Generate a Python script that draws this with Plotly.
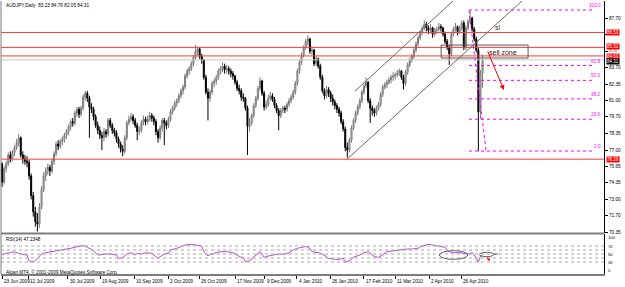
import plotly.graph_objects as go

# ---------------- data ----------------
opens = [
75.9,74.4,75.5,75.9,76.6,76.3,76.8,77.2,77.6,78.0,
76.6,76.3,76.1,76.0,74.9,73.3,72.0,71.2,71.0,72.4,
73.8,74.9,75.3,75.6,75.3,76.1,76.7,77.5,77.3,77.7,
77.9,78.2,78.5,78.9,79.3,79.2,80.0,80.3,79.9,80.4,
81.3,81.6,81.2,80.5,80.3,79.7,79.0,78.6,78.2,78.0,
78.5,78.3,79.4,79.0,78.6,78.4,77.9,77.5,77.1,76.9,
78.0,79.2,79.5,79.7,79.4,79.0,78.5,78.6,79.2,79.5,
79.3,79.5,79.8,79.6,79.3,78.5,78.0,78.8,79.4,79.2,
79.0,79.5,80.1,80.4,80.8,81.0,81.4,81.8,82.1,83.0,
83.4,83.6,84.0,84.5,85.0,85.2,84.6,84.3,82.9,81.7,
81.2,81.7,82.4,82.6,82.9,83.4,83.6,83.8,83.5,83.6,
83.4,83.2,83.0,82.5,82.0,81.8,81.3,81.2,80.4,78.9,
79.2,79.8,80.6,81.2,82.0,82.6,81.6,80.5,80.7,81.2,
81.4,81.1,80.6,80.2,79.8,80.2,80.4,80.3,80.7,81.0,
81.3,81.7,82.4,83.4,84.1,84.7,85.3,85.8,86.0,85.0,
85.1,84.0,84.4,83.8,82.9,81.8,81.4,81.9,81.6,81.2,
80.9,80.6,80.3,80.0,79.3,78.7,77.2,77.0,77.8,78.8,
79.4,80.0,80.5,81.0,81.7,82.2,82.5,81.0,80.4,80.2,
80.0,80.4,80.7,81.5,82.1,82.3,82.5,82.7,82.9,83.0,
83.1,83.2,83.4,82.9,82.4,83.3,83.9,84.3,84.6,85.1,
85.6,86.1,86.5,86.9,87.2,86.9,86.7,86.9,86.4,86.7,
86.8,87.0,86.9,86.4,85.8,85.3,84.8,86.4,86.8,87.0,
86.6,86.9,87.3,85.3,86.9,87.4,87.7,86.8,86.0,85.1,
80.1,83.23]
highs = [
76.0,75.7,76.1,76.8,76.9,77.0,77.4,77.9,78.3,78.1,
76.9,76.6,76.5,76.2,75.1,73.6,72.4,71.9,72.7,74.1,
75.2,75.6,75.9,75.8,76.3,76.9,77.7,77.8,77.9,78.1,
78.4,78.7,79.1,79.5,79.6,80.2,80.5,80.5,80.6,81.5,
81.8,81.8,81.4,80.8,80.5,79.9,79.3,78.9,78.5,78.8,
78.7,79.6,79.6,79.2,78.8,78.6,78.1,77.7,77.4,78.2,
79.4,79.8,80.0,79.9,79.6,79.2,78.9,79.4,79.8,79.7,
79.8,80.1,80.0,79.8,79.5,78.7,79.0,79.6,79.6,79.4,
79.7,80.3,80.6,81.0,81.2,81.6,82.0,82.3,83.2,83.6,
83.8,84.2,84.7,85.5,85.4,85.3,84.8,84.4,83.1,82.0,
81.9,82.6,82.8,83.1,83.6,83.8,84.1,84.0,83.9,83.8,
83.6,83.4,83.1,82.7,82.3,82.0,81.6,81.3,80.6,79.6,
80.0,80.8,81.4,82.2,82.9,82.7,81.8,81.0,81.5,81.7,
81.6,81.3,80.8,80.4,80.4,80.6,80.6,80.9,81.2,81.5,
81.9,82.6,83.6,84.3,84.9,85.5,86.0,86.3,86.1,85.4,
85.2,84.6,84.5,84.0,83.1,82.0,82.2,82.1,81.8,81.5,
81.1,80.8,80.5,80.2,79.5,78.9,77.6,78.0,79.0,79.6,
80.2,80.7,81.2,81.9,82.4,82.9,82.6,81.2,80.6,80.4,
80.6,80.9,81.7,82.3,82.5,82.7,82.9,83.1,83.3,83.3,
83.5,83.6,83.5,83.1,83.5,84.1,84.5,84.8,85.3,85.8,
86.3,86.7,87.1,87.5,87.4,87.1,87.2,87.0,86.9,87.0,
87.3,87.2,87.0,86.6,86.0,85.5,86.6,87.0,87.3,87.1,
87.1,87.5,87.5,87.1,87.6,88.3,87.8,87.0,86.2,85.3,
83.5,84.76]
lows = [
74.0,74.2,75.2,75.7,76.0,76.1,76.5,77.0,77.3,76.4,
75.9,75.8,75.6,74.6,73.0,71.6,70.8,70.4,70.7,72.2,
73.6,74.5,75.0,74.9,75.1,75.8,76.5,77.0,77.1,77.4,
77.6,77.9,78.2,78.6,78.9,79.0,79.7,79.6,79.7,80.2,
81.0,80.9,78.0,80.0,79.4,78.8,78.3,77.9,77.0,77.7,
78.0,78.1,78.8,78.3,78.1,77.6,77.2,76.8,76.5,76.7,
77.8,79.0,79.3,79.1,78.8,77.8,78.2,78.4,79.0,79.0,
79.1,79.3,79.3,79.0,78.2,77.6,77.8,78.5,77.4,78.7,
78.8,79.3,79.9,80.2,80.5,80.8,81.2,81.5,81.9,82.8,
83.1,83.4,83.8,84.3,84.7,84.4,84.0,82.7,81.5,79.4,
80.9,81.5,82.1,82.3,82.7,83.1,83.3,83.2,83.2,83.1,
82.9,82.7,82.3,81.8,81.5,81.0,80.9,80.2,76.6,78.5,
79.0,79.6,80.4,81.0,81.8,81.4,80.2,80.3,80.5,81.0,
80.9,80.4,80.0,78.6,79.6,80.0,80.0,80.1,80.5,80.8,
81.1,81.5,82.2,83.2,83.9,84.5,85.1,85.5,84.8,84.7,
83.8,83.8,83.6,82.7,81.6,81.1,81.2,81.3,80.9,80.6,
80.3,80.0,79.7,79.1,78.5,76.9,76.4,76.8,77.6,78.6,
79.2,79.8,80.3,80.8,81.5,82.0,80.8,79.2,79.8,79.7,
79.8,80.2,80.5,81.3,81.9,82.0,82.3,82.4,82.6,82.7,
82.9,83.0,82.7,81.9,82.2,83.1,83.7,84.1,84.4,84.9,
85.4,85.9,86.3,86.7,86.6,86.4,86.5,86.1,86.2,86.4,
86.6,86.6,86.2,85.6,85.1,83.9,84.6,86.2,86.6,86.3,
86.4,86.7,85.1,85.1,86.7,87.2,86.6,85.8,84.9,76.9,
79.5,82.05]
closes = [
74.4,75.5,75.9,76.6,76.3,76.8,77.2,77.6,78.0,76.6,
76.3,76.1,76.0,74.9,73.3,72.0,71.2,71.0,72.4,73.8,
74.9,75.3,75.6,75.3,76.1,76.7,77.5,77.3,77.7,77.9,
78.2,78.5,78.9,79.3,79.2,80.0,80.3,79.9,80.4,81.3,
81.6,81.2,80.5,80.3,79.7,79.0,78.6,78.2,78.0,78.5,
78.3,79.4,79.0,78.6,78.4,77.9,77.5,77.1,76.9,78.0,
79.2,79.5,79.7,79.4,79.0,78.5,78.6,79.2,79.5,79.3,
79.5,79.8,79.6,79.3,78.5,78.0,78.8,79.4,79.2,79.0,
79.5,80.1,80.4,80.8,81.0,81.4,81.8,82.1,83.0,83.4,
83.6,84.0,84.5,85.0,85.2,84.6,84.3,82.9,81.7,81.2,
81.7,82.4,82.6,82.9,83.4,83.6,83.8,83.5,83.6,83.4,
83.2,83.0,82.5,82.0,81.8,81.3,81.2,80.4,78.9,79.2,
79.8,80.6,81.2,82.0,82.6,81.6,80.5,80.7,81.2,81.4,
81.1,80.6,80.2,79.8,80.2,80.4,80.3,80.7,81.0,81.3,
81.7,82.4,83.4,84.1,84.7,85.3,85.8,86.0,85.0,85.1,
84.0,84.4,83.8,82.9,81.8,81.4,81.9,81.6,81.2,80.9,
80.6,80.3,80.0,79.3,78.7,77.2,77.0,77.8,78.8,79.4,
80.0,80.5,81.0,81.7,82.2,82.5,81.0,80.4,80.2,80.0,
80.4,80.7,81.5,82.1,82.3,82.5,82.7,82.9,83.0,83.1,
83.2,83.4,82.9,82.4,83.3,83.9,84.3,84.6,85.1,85.6,
86.1,86.5,86.9,87.2,86.9,86.7,86.9,86.4,86.7,86.8,
87.0,86.9,86.4,85.8,85.3,84.8,86.4,86.8,87.0,86.6,
86.9,87.3,85.3,86.9,87.4,87.7,86.8,86.0,85.1,80.1,
83.23,84.31]

rsi_bar = [0,1,4,6,8,9,12,13,15,16,17,19,21,24,26,28,31,33,36,38,
           40,41,43,44,46,48,50,52,55,56,58,60,62,64,65,67,69,72,73,75,
           76,78,80,81,84,88,91,94,96,97,98,99,100,103,105,108,111,113,114,116,
           117,119,121,123,124,125,126,128,130,132,136,138,140,142,145,146,148,149,152,154,
           156,157,160,162,164,165,167,169,172,174,176,177,179,181,183,185,188,190,193,195,
           197,200,201,203,205,207,209,211,213,215,217,220,222,224,226,227,229,230,231]
rsi_val = [47.5,50,53.3,55.8,51.7,50,47.5,32.5,30.8,33.3,39.2,50,53.3,55.8,58.3,60,62.5,64.2,68.3,70.8,
           70,66.7,60,58.3,47.5,49.2,50,50,47.5,39.2,40.8,50,53.3,47.5,51.7,50,53.3,51.7,47.5,39.2,
           43.3,50,51.7,60,64.2,72.5,74.2,72.5,70,55.8,50,45,49.2,53.3,55.8,55.8,53.3,47.5,43.3,40.8,
           30.8,33.3,43.3,51.7,55.8,50,41.7,45,47.5,49.2,50,53.3,60,64.2,67.5,69,64.2,55.8,53.3,50,
           43.3,39.2,36.7,36.7,39.2,29.2,33.3,41.7,47.5,53.3,55.8,51.7,43.3,41.7,47.5,55.8,58.3,60,61.7,62.5,
           62.5,64.2,68.3,70.8,74.2,72.5,70,68.3,66.7,55.8,53.3,53.3,51.7,50,53.3,47.5,30.0,43.3,47.2]

date_labels = ["23 Jun 2009", "12 Jul 2009", "30 Jul 2009", "19 Aug 2009", "10 Sep 2009",
               "2 Oct 2009", "26 Oct 2009", "17 Nov 2009", "9 Dec 2009", "4 Jan 2010",
               "26 Jan 2010", "17 Feb 2010", "11 Mar 2010", "2 Apr 2010", "26 Apr 2010"]
date_bars = [0, 12.5, 31.7, 47.1, 63.5, 79.8, 94.7, 112.0, 126.4, 141.8, 157.7, 174.0, 189.0, 205.3, 220.7]

price_ticks = [87.70, 86.35, 85.00, 83.70, 82.35, 81.00, 79.70, 78.35, 77.00, 75.65, 74.35, 73.00, 71.70, 70.35]
hidden_ticks = [86.35, 85.00]   # drawn under / between the red level boxes
red_levels = [86.53, 85.32, 84.63, 76.26]
red_shift = [0, 0.5, -0.5, 0]
bid = 84.31
fib_names = ["100.0", "61.8", "50.0", "38.2", "23.6", "0.0"]
fib_prices = [88.35, 83.85, 82.65, 81.15, 79.50, 76.92]
rsi_levels = [70, 60, 50, 40, 30]

N = len(closes)
bars = list(range(N))

FONT = "Liberation Sans"
MAG = "#ff00ff"

fig = go.Figure()
fig.add_trace(go.Candlestick(
    x=bars, open=opens, high=highs, low=lows, close=closes,
    increasing=dict(line=dict(color="#7a7a7a", width=1), fillcolor="#d0d0d0"),
    decreasing=dict(line=dict(color="#000000", width=1), fillcolor="#000000"),
    whiskerwidth=0, hoverinfo="skip", showlegend=False, xaxis="x", yaxis="y"))
fig.add_trace(go.Scatter(x=rsi_bar, y=rsi_val, mode="lines",
                         line=dict(color="#bb48d0", width=1), hoverinfo="skip",
                         showlegend=False, xaxis="x", yaxis="y2"))

shapes = []
for p in red_levels:
    shapes.append(dict(type="line", xref="paper", x0=0, x1=1, yref="y", y0=p, y1=p,
                       line=dict(color="#ff3a3a", width=1)))
shapes.append(dict(type="line", xref="paper", x0=0, x1=1, yref="y", y0=bid, y1=bid,
                   line=dict(color="#c8c8c8", width=1)))
shapes.append(dict(type="line", xref="x", yref="y", x0=165.4, y0=76.19, x1=250.5, y1=89.16,
                   line=dict(color="#6a6a6a", width=1)))
shapes.append(dict(type="line", xref="x", yref="y", x0=169.7, y0=81.78, x1=216.8, y1=89.08,
                   line=dict(color="#6a6a6a", width=1)))
shapes.append(dict(type="rect", xref="x", yref="y", x0=211.1, x1=252.9, y0=84.46, y1=85.51,
                   line=dict(color="#5a5a5a", width=1)))
for p in fib_prices:
    shapes.append(dict(type="line", xref="x", yref="y", x0=224.5, x1=285, y0=p, y1=p,
                       line=dict(color=MAG, width=1, dash="dot")))
shapes.append(dict(type="line", xref="x", yref="y", x0=224.5, y0=fib_prices[0], x1=232.7, y1=fib_prices[-1],
                   line=dict(color=MAG, width=1, dash="dot")))
for lv in rsi_levels:
    shapes.append(dict(type="line", xref="paper", x0=0, x1=1, yref="y2", y0=lv, y1=lv,
                       line=dict(color="#a8a8a8", width=1, dash="dot")))
shapes.append(dict(type="circle", xref="x", yref="y2", x0=210.2, x1=223.9, y0=36.75, y1=58.25,
                   line=dict(color="#606060", width=1)))
shapes.append(dict(type="circle", xref="x", yref="y2", x0=229.5, x1=236.4, y0=43.25, y1=54.25,
                   line=dict(color="#606060", width=1)))
shapes.append(dict(type="line", xref="x", yref="y2", x0=236.4, x1=238.5, y0=50, y1=50,
                   line=dict(color="#606060", width=1)))
shapes.append(dict(type="line", xref="paper", yref="paper", x0=0, x1=1, y0=0.1484, y1=0.1484,
                   line=dict(color="#7c7c7c", width=2)))
shapes.append(dict(type="line", xref="paper", yref="paper", x0=0, x1=0, y0=0, y1=1,
                   line=dict(color="#7c7c7c", width=1)))

small = dict(family=FONT, size=4.7, color="#000000")
ann = []
ann.append(dict(text="AUDJPY,Daily  83.23 84.76 82.05 84.31", xref="paper", yref="paper",
                x=0.005, y=0.982, xanchor="left", yanchor="middle", showarrow=False, font=small))
ann.append(dict(text="RSI(14) 47.2348", xref="paper", yref="paper",
                x=0.005, y=0.128, xanchor="left", yanchor="middle", showarrow=False, font=small))
ann.append(dict(text="Alpari MT4, © 2001-2009 MetaQuotes Software Corp.", xref="paper", yref="paper",
                x=0.005, y=0.008, xanchor="left", yanchor="middle", showarrow=False, font=small))
for lab, b in zip(date_labels, date_bars):
    ann.append(dict(text=lab, xref="x", yref="paper", x=b, y=-0.029, xanchor="left", yanchor="middle",
                    showarrow=False, font=small))
# tick label that peeks out between the level boxes
ann.append(dict(text="85.00", xref="paper", yref="y", x=1, y=85.00, xanchor="left", yanchor="middle",
                xshift=3, yshift=0.5, showarrow=False, font=dict(family=FONT, size=3.4, color="#606060")))
for p, s in zip(red_levels, red_shift):
    ann.append(dict(text="%.2f" % p, xref="paper", yref="y", x=1, y=p, xanchor="left", yanchor="middle",
                    xshift=2, yshift=s, showarrow=False, bgcolor="#ff0000", borderpad=0,
                    font=dict(family=FONT, size=4.5, color="#ffffff")))
ann.append(dict(text="%.2f" % bid, xref="paper", yref="y", x=1, y=bid, xanchor="left", yanchor="middle",
                xshift=2, yshift=-2, showarrow=False, bgcolor="#000000", borderpad=0,
                font=dict(family=FONT, size=4.5, color="#ffffff")))
for nm, p in zip(fib_names, fib_prices):
    ann.append(dict(text=nm, xref="paper", yref="y", x=1, y=p, xanchor="right", yanchor="bottom",
                    xshift=-1, showarrow=False, font=dict(family=FONT, size=4.7, color=MAG)))
ann.append(dict(text="sl", xref="x", yref="y", x=238.5, y=86.97, showarrow=False,
                font=dict(family=FONT, size=7, color="#303030")))
ann.append(dict(text="sell zone", xref="x", yref="y", x=240.9, y=84.94, showarrow=False,
                font=dict(family=FONT, size=7, color="#202020")))
ann.append(dict(text="", xref="x", yref="y", x=241.3, y=81.86, axref="x", ayref="y", ax=233.2, ay=85.11,
                showarrow=True, arrowhead=2, arrowsize=1, arrowwidth=1, arrowcolor="#ff0000"))
ann.append(dict(text="", xref="x", yref="y2", x=234.6, y=32.5, axref="x", ayref="y2", ax=232.2, ay=47.5,
                showarrow=True, arrowhead=2, arrowsize=0.6, arrowwidth=1, arrowcolor="#ff0000"))
for t, v in [("100", 90.75), ("70", 70), ("50", 50), ("30", 30), ("0", 8.25)]:
    ann.append(dict(text=t, xref="paper", yref="y2", x=1, y=v, xanchor="left", yanchor="middle",
                    xshift=2, showarrow=False, font=dict(family=FONT, size=4.2, color="#000000")))

fig.update_layout(
    width=625, height=287, margin=dict(l=1, r=21, t=1, b=13),
    paper_bgcolor="#ffffff", plot_bgcolor="#ffffff", showlegend=False,
    xaxis=dict(range=[-0.5, 289.4], anchor="y2", showgrid=False, zeroline=False,
               tickvals=date_bars, ticks="outside", ticklen=3, tickcolor="#000000",
               showticklabels=False, showline=True, linecolor="#7c7c7c", linewidth=2,
               rangeslider=dict(visible=False), fixedrange=True),
    yaxis=dict(domain=[0.1502, 1], range=[70.28, 89.08], side="right", anchor="x",
               showgrid=False, zeroline=False, tickvals=price_ticks,
               ticktext=["" if v in hidden_ticks else "%.2f" % v for v in price_ticks],
               ticks="outside", ticklen=3,
               tickcolor="#000000", tickfont=dict(family=FONT, size=4.7, color="#000000"),
               showline=True, linecolor="#000000", linewidth=1),
    yaxis2=dict(domain=[0, 0.1465], range=[0, 100], side="right", anchor="x",
                showgrid=False, zeroline=False, showticklabels=False, ticks="",
                showline=True, linecolor="#000000", linewidth=1),
    shapes=shapes, annotations=ann,
)
fig.write_html("out.html")
